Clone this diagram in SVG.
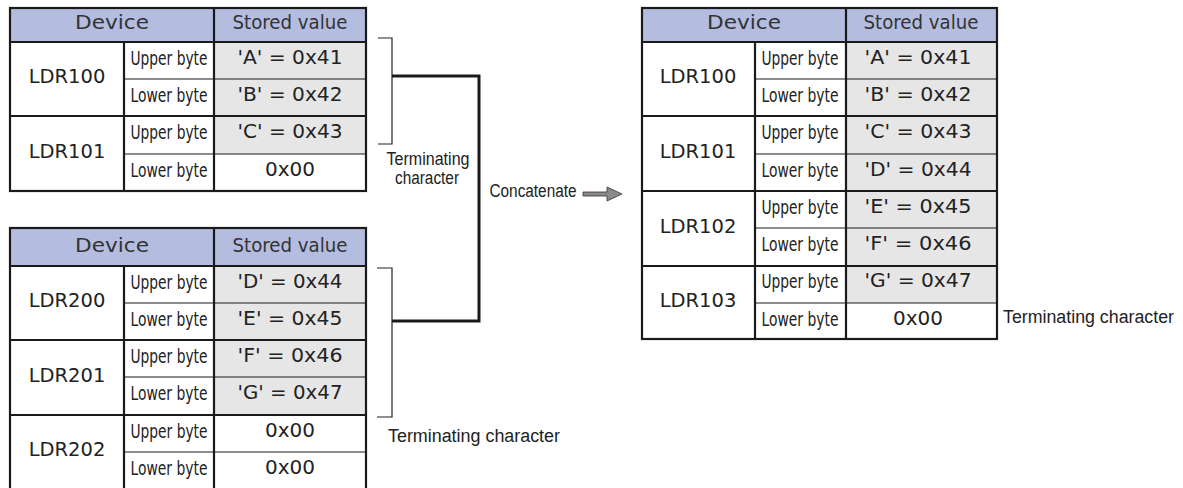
<svg xmlns="http://www.w3.org/2000/svg" width="1183" height="488" viewBox="0 0 1183 488">
<style>
.hd{fill:#b4bde0}
.gy{fill:#e6e6e6}
.wh{fill:#ffffff}
.thick{stroke:#1a1a1a;stroke-width:2.2;fill:none}
.thin{stroke:#1a1a1a;stroke-width:1.2;fill:none}
text{font-family:"DejaVu Sans","Liberation Sans",sans-serif;fill:#222;text-anchor:middle}
.h{font-size:20px;fill:#333}
.ldr{font-size:19.5px}
.b{font-size:19px}
.v{font-size:20px}
.lbl{font-family:"Liberation Sans","DejaVu Sans",sans-serif;font-size:18px}
.br{stroke:#222;stroke-width:1.2;fill:none}
.conn{stroke:#1a1a1a;stroke-width:3;fill:none}
</style>
<rect width="1183" height="488" fill="#ffffff"/>

<g id="table1">
<rect class="hd" x="10" y="8" width="356" height="34"/>
<rect class="wh" x="10" y="42" width="356" height="149"/>
<rect class="gy" x="214" y="42" width="152" height="112"/>
<rect class="thick" x="10" y="8" width="356" height="183"/>
<line class="thick" x1="10" y1="42" x2="366" y2="42"/>
<line class="thick" x1="10" y1="116" x2="366" y2="116"/>
<line class="thin" x1="124" y1="79" x2="366" y2="79"/>
<line class="thin" x1="124" y1="154" x2="366" y2="154"/>
<line class="thick" x1="124" y1="42" x2="124" y2="191"/>
<line class="thick" x1="214" y1="8" x2="214" y2="191"/>
<text class="h" x="112" y="29" textLength="74" lengthAdjust="spacingAndGlyphs">Device</text>
<text class="h" x="290" y="29" textLength="115" lengthAdjust="spacingAndGlyphs">Stored value</text>
<text class="ldr" x="67" y="83">LDR100</text>
<text class="ldr" x="67" y="158">LDR101</text>
<text class="b" x="169" y="65" textLength="77" lengthAdjust="spacingAndGlyphs">Upper byte</text>
<text class="b" x="169" y="102" textLength="77" lengthAdjust="spacingAndGlyphs">Lower byte</text>
<text class="b" x="169" y="139" textLength="77" lengthAdjust="spacingAndGlyphs">Upper byte</text>
<text class="b" x="169" y="177" textLength="77" lengthAdjust="spacingAndGlyphs">Lower byte</text>
<text class="v" x="290" y="64" textLength="105" lengthAdjust="spacingAndGlyphs">'A' = 0x41</text>
<text class="v" x="290" y="101" textLength="105" lengthAdjust="spacingAndGlyphs">'B' = 0x42</text>
<text class="v" x="290" y="138" textLength="105" lengthAdjust="spacingAndGlyphs">'C' = 0x43</text>
<text class="v" x="290" y="176">0x00</text>
</g>

<g id="table2">
<rect class="hd" x="10" y="228" width="356" height="38"/>
<rect class="wh" x="10" y="266" width="356" height="224"/>
<rect class="gy" x="214" y="266" width="152" height="149"/>
<rect class="thick" x="10" y="228" width="356" height="262"/>
<line class="thick" x1="10" y1="266" x2="366" y2="266"/>
<line class="thick" x1="10" y1="340" x2="366" y2="340"/>
<line class="thick" x1="10" y1="415" x2="366" y2="415"/>
<line class="thin" x1="124" y1="303" x2="366" y2="303"/>
<line class="thin" x1="124" y1="377" x2="366" y2="377"/>
<line class="thin" x1="124" y1="452" x2="366" y2="452"/>
<line class="thick" x1="124" y1="266" x2="124" y2="490"/>
<line class="thick" x1="214" y1="228" x2="214" y2="490"/>
<text class="h" x="112" y="252" textLength="74" lengthAdjust="spacingAndGlyphs">Device</text>
<text class="h" x="290" y="252" textLength="115" lengthAdjust="spacingAndGlyphs">Stored value</text>
<text class="ldr" x="67" y="307">LDR200</text>
<text class="ldr" x="67" y="382">LDR201</text>
<text class="ldr" x="67" y="456">LDR202</text>
<text class="b" x="169" y="289" textLength="77" lengthAdjust="spacingAndGlyphs">Upper byte</text>
<text class="b" x="169" y="326" textLength="77" lengthAdjust="spacingAndGlyphs">Lower byte</text>
<text class="b" x="169" y="363" textLength="77" lengthAdjust="spacingAndGlyphs">Upper byte</text>
<text class="b" x="169" y="400" textLength="77" lengthAdjust="spacingAndGlyphs">Lower byte</text>
<text class="b" x="169" y="438" textLength="77" lengthAdjust="spacingAndGlyphs">Upper byte</text>
<text class="b" x="169" y="475" textLength="77" lengthAdjust="spacingAndGlyphs">Lower byte</text>
<text class="v" x="290" y="288" textLength="105" lengthAdjust="spacingAndGlyphs">'D' = 0x44</text>
<text class="v" x="290" y="325" textLength="105" lengthAdjust="spacingAndGlyphs">'E' = 0x45</text>
<text class="v" x="290" y="362" textLength="105" lengthAdjust="spacingAndGlyphs">'F' = 0x46</text>
<text class="v" x="290" y="399" textLength="105" lengthAdjust="spacingAndGlyphs">'G' = 0x47</text>
<text class="v" x="290" y="437">0x00</text>
<text class="v" x="290" y="474">0x00</text>
</g>

<g id="table3">
<rect class="hd" x="642" y="8" width="355" height="34"/>
<rect class="wh" x="642" y="42" width="355" height="297"/>
<rect class="gy" x="846" y="42" width="151" height="261"/>
<rect class="thick" x="642" y="8" width="355" height="331"/>
<line class="thick" x1="642" y1="42" x2="997" y2="42"/>
<line class="thick" x1="642" y1="116" x2="997" y2="116"/>
<line class="thick" x1="642" y1="191" x2="997" y2="191"/>
<line class="thick" x1="642" y1="266" x2="997" y2="266"/>
<line class="thin" x1="755" y1="79" x2="997" y2="79"/>
<line class="thin" x1="755" y1="154" x2="997" y2="154"/>
<line class="thin" x1="755" y1="228" x2="997" y2="228"/>
<line class="thin" x1="755" y1="303" x2="997" y2="303"/>
<line class="thick" x1="755" y1="42" x2="755" y2="339"/>
<line class="thick" x1="846" y1="8" x2="846" y2="339"/>
<text class="h" x="744" y="29" textLength="74" lengthAdjust="spacingAndGlyphs">Device</text>
<text class="h" x="921" y="29" textLength="115" lengthAdjust="spacingAndGlyphs">Stored value</text>
<text class="ldr" x="698" y="83">LDR100</text>
<text class="ldr" x="698" y="158">LDR101</text>
<text class="ldr" x="698" y="233">LDR102</text>
<text class="ldr" x="698" y="307">LDR103</text>
<text class="b" x="800" y="65" textLength="77" lengthAdjust="spacingAndGlyphs">Upper byte</text>
<text class="b" x="800" y="102" textLength="77" lengthAdjust="spacingAndGlyphs">Lower byte</text>
<text class="b" x="800" y="139" textLength="77" lengthAdjust="spacingAndGlyphs">Upper byte</text>
<text class="b" x="800" y="177" textLength="77" lengthAdjust="spacingAndGlyphs">Lower byte</text>
<text class="b" x="800" y="214" textLength="77" lengthAdjust="spacingAndGlyphs">Upper byte</text>
<text class="b" x="800" y="251" textLength="77" lengthAdjust="spacingAndGlyphs">Lower byte</text>
<text class="b" x="800" y="288" textLength="77" lengthAdjust="spacingAndGlyphs">Upper byte</text>
<text class="b" x="800" y="326" textLength="77" lengthAdjust="spacingAndGlyphs">Lower byte</text>
<text class="v" x="918" y="64" textLength="107" lengthAdjust="spacingAndGlyphs">'A' = 0x41</text>
<text class="v" x="918" y="101" textLength="107" lengthAdjust="spacingAndGlyphs">'B' = 0x42</text>
<text class="v" x="918" y="138" textLength="107" lengthAdjust="spacingAndGlyphs">'C' = 0x43</text>
<text class="v" x="918" y="176" textLength="107" lengthAdjust="spacingAndGlyphs">'D' = 0x44</text>
<text class="v" x="918" y="213" textLength="107" lengthAdjust="spacingAndGlyphs">'E' = 0x45</text>
<text class="v" x="918" y="250" textLength="107" lengthAdjust="spacingAndGlyphs">'F' = 0x46</text>
<text class="v" x="918" y="287" textLength="107" lengthAdjust="spacingAndGlyphs">'G' = 0x47</text>
<text class="v" x="918" y="325">0x00</text>
</g>

<g id="connectors">
<polyline class="br" points="378,38 392,38 392,144 378,144"/>
<polyline class="br" points="377,268 392,268 392,417 377,417"/>
<polyline class="conn" points="392,76 479,76 479,321 392,321"/>
<polygon points="583,192 607,192 607,187 622,194 607,201 607,196 583,196" fill="#8a8a8a" stroke="#333" stroke-width="0.8"/>
</g>

<g id="labels">
<text class="lbl" x="428" y="165" textLength="83" lengthAdjust="spacingAndGlyphs">Terminating</text>
<text class="lbl" x="427" y="184" textLength="64" lengthAdjust="spacingAndGlyphs">character</text>
<text class="lbl" x="533" y="197" textLength="87" lengthAdjust="spacingAndGlyphs">Concatenate</text>
<text class="lbl" x="474" y="442" textLength="172" lengthAdjust="spacingAndGlyphs">Terminating character</text>
<text class="lbl" x="1003" y="323" style="text-anchor:start" textLength="171" lengthAdjust="spacingAndGlyphs">Terminating character</text>
</g>
</svg>
